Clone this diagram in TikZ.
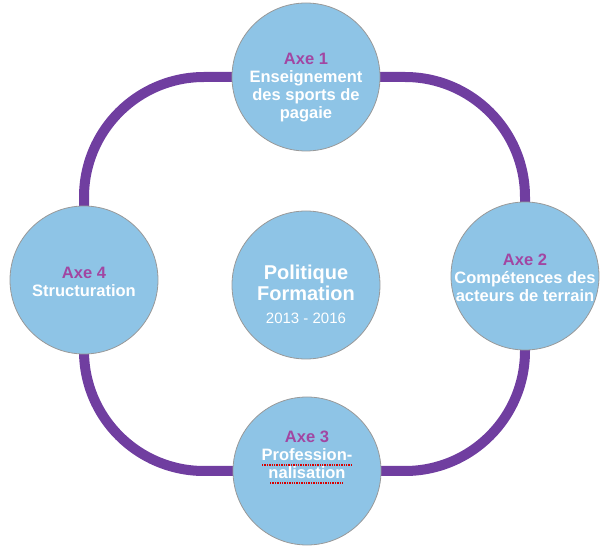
\documentclass[tikz,border=0pt]{standalone}
\usepackage{fontspec}
\setmainfont{Liberation Sans}
\usetikzlibrary{backgrounds}
\definecolor{axeblue}{RGB}{142,196,230}
\definecolor{loopviolet}{RGB}{112,62,160}
\definecolor{axemagenta}{RGB}{162,70,162}
\tikzstyle{axe}=[circle,fill=axeblue,draw=gray!80,line width=0.8pt,minimum size=148pt,inner sep=0pt]
\tikzstyle{axetext}=[align=center,text=white,font=\fontsize{16.5}{18}\selectfont\bfseries]
\tikzstyle{cycleline}=[draw=loopviolet,line width=10pt,rounded corners=120pt]
\tikzstyle{squiggle}=[draw=red!85!black,densely dotted,line width=1.4pt]
\newcommand{\axenum}[1]{\textcolor{axemagenta}{Axe #1}}

\begin{document}
\begin{tikzpicture}[x=1pt,y=-1pt]
  \useasboundingbox (0,0) rectangle (603,553);

    \foreach \pos/\name in {{(306,77)/axe1}, {(525,276)/axe2}, {(307,471)/axe3}, {(84,280)/axe4}, {(306,285)/centre}}
        \node[axe] (\name) at \pos {};

  \begin{pgfonlayer}{background}
    \path[cycleline] (axe1.center) -- (axe1.center -| axe2.center) -- (axe3.center -| axe2.center)
        -- (axe3.center -| axe4.center) -- (axe1.center -| axe4.center) -- (axe1.center);
  \end{pgfonlayer}

  \node[axetext] (t1) at (306,88) {\axenum{1}\\Enseignement\\des sports de\\pagaie};
  \node[axetext] (t2) at (525,278) {\axenum{2}\\Compétences des\\acteurs de terrain};
  \node[axetext] (t3) at (307,455) {\axenum{3}\\Profession-\\nalisation};
  \node[axetext] (t4) at (84,282) {\axenum{4}\\Structuration};
  \node[axetext,font=\fontsize{20}{21}\selectfont\bfseries] (pol) at (306,283) {Politique\\Formation};
  \node[axetext,font=\fontsize{15}{17}\selectfont] (year) at (306,318) {2013 - 2016};

  \draw[squiggle] (262,465) -- (352,465);
  \draw[squiggle] (270,483) -- (343,483);
\end{tikzpicture}
\end{document}
